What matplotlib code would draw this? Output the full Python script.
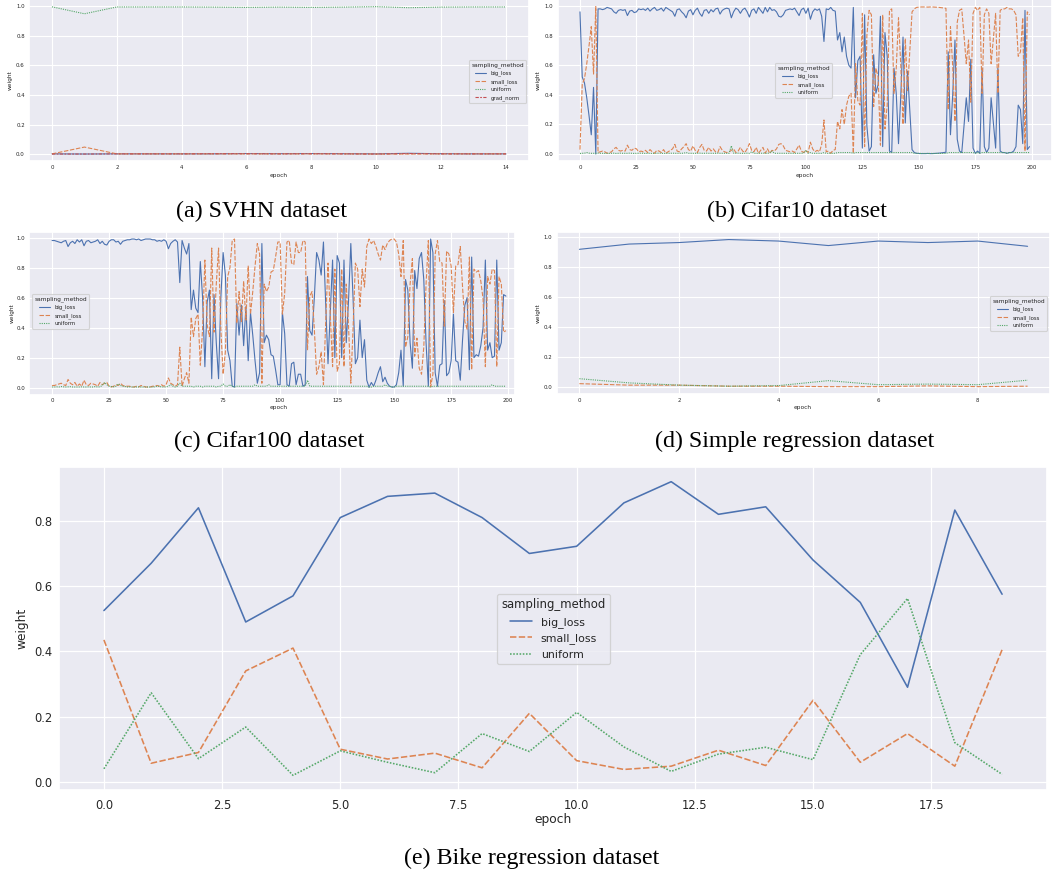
import matplotlib
matplotlib.use('Agg')
import matplotlib.pyplot as plt
import seaborn as sns

sns.set_theme(style='darkgrid')
plt.rcParams['font.family'] = ['DejaVu Sans']

# ---------------- data ----------------
methods = ['big_loss', 'small_loss', 'uniform', 'grad_norm']

svhn_epoch = list(range(15))
svhn_big = [0.002, 0.001, 0.002, 0.002, 0.002, 0.002, 0.004, 0.003, 0.004, 0.003, 0.002, 0.006, 0.003, 0.002, 0.002]
svhn_small = [0.002, 0.048, 0.002, 0.002, 0.002, 0.002, 0.002, 0.002, 0.002, 0.002, 0.001, 0.001, 0.002, 0.002, 0.002]
svhn_uniform = [0.995, 0.948, 0.994, 0.994, 0.994, 0.993, 0.991, 0.993, 0.991, 0.993, 0.996, 0.989, 0.993, 0.994, 0.994]
svhn_grad = [0.001, 0.001, 0.002, 0.002, 0.002, 0.003, 0.003, 0.002, 0.003, 0.002, 0.001, 0.004, 0.002, 0.002, 0.002]

c10_epoch = list(range(200))
c10_big = [
    0.96, 0.52, 0.48, 0.38, 0.26, 0.13, 0.45, 0.00, 0.98, 0.98,
    0.975, 0.98, 0.99, 0.985, 0.98, 0.96, 0.95, 0.97, 0.975, 0.97,
    0.975, 0.935, 0.965, 0.97, 0.955, 0.96, 0.98, 0.975, 0.98, 0.97,
    0.985, 0.965, 0.98, 0.99, 0.97, 0.975, 0.985, 0.965, 0.99, 0.98,
    0.97, 0.96, 0.93, 0.975, 0.98, 0.96, 0.945, 0.92, 0.965, 0.975,
    0.94, 0.97, 0.985, 0.95, 0.93, 0.97, 0.975, 0.95, 0.975, 0.96,
    0.98, 0.985, 0.945, 0.97, 0.98, 0.985, 0.98, 0.92, 0.96, 0.985,
    0.975, 0.95, 0.975, 0.985, 0.96, 0.925, 0.97, 0.98, 0.95, 0.99,
    0.97, 0.95, 0.99, 0.96, 0.99, 0.97, 0.975, 0.96, 0.93, 0.925,
    0.94, 0.97, 0.975, 0.98, 0.975, 0.985, 0.96, 0.935, 0.975, 0.985,
    0.95, 0.985, 0.91, 0.96, 0.98, 0.97, 0.98, 0.93, 0.76, 0.98,
    0.975, 0.99, 0.97, 0.965, 0.77, 0.82, 0.69, 0.79, 0.66, 0.60,
    0.58, 0.99, 0.38, 0.63, 0.66, 0.04, 0.94, 0.19, 0.02, 0.05,
    0.67, 0.41, 0.47, 0.93, 0.05, 0.82, 0.66, 0.02, 0.01, 0.58,
    0.41, 0.07, 0.39, 0.79, 0.21, 0.56, 0.30, 0.03, 0.01, 0.005,
    0.004, 0.003, 0.003, 0.003, 0.004, 0.003, 0.003, 0.004, 0.005, 0.006,
    0.008, 0.01, 0.012, 0.69, 0.13, 0.40, 0.77, 0.10, 0.02, 0.01,
    0.19, 0.38, 0.22, 0.64, 0.04, 0.005, 0.02, 0.005, 0.58, 0.05,
    0.01, 0.04, 0.38, 0.21, 0.04, 0.58, 0.02, 0.01, 0.01, 0.005,
    0.01, 0.01, 0.02, 0.05, 0.33, 0.30, 0.07, 0.97, 0.03, 0.05]
c10_small = [
    0.03, 0.47, 0.51, 0.61, 0.73, 0.86, 0.54, 0.995, 0.01, 0.015,
    0.02, 0.015, 0.005, 0.01, 0.015, 0.035, 0.045, 0.025, 0.02, 0.025,
    0.02, 0.06, 0.03, 0.025, 0.04, 0.035, 0.015, 0.02, 0.015, 0.025,
    0.01, 0.03, 0.015, 0.005, 0.025, 0.02, 0.01, 0.03, 0.005, 0.015,
    0.025, 0.035, 0.065, 0.02, 0.015, 0.035, 0.05, 0.07, 0.03, 0.02,
    0.055, 0.025, 0.01, 0.045, 0.065, 0.025, 0.02, 0.045, 0.02, 0.035,
    0.015, 0.01, 0.05, 0.025, 0.015, 0.01, 0.015, 0.025, 0.035, 0.01,
    0.02, 0.045, 0.02, 0.01, 0.035, 0.07, 0.025, 0.015, 0.045, 0.005,
    0.025, 0.045, 0.005, 0.035, 0.005, 0.025, 0.02, 0.035, 0.065, 0.07,
    0.055, 0.025, 0.02, 0.015, 0.02, 0.01, 0.035, 0.06, 0.02, 0.01,
    0.025, 0.01, 0.08, 0.035, 0.015, 0.025, 0.015, 0.065, 0.23, 0.015,
    0.02, 0.005, 0.025, 0.03, 0.22, 0.17, 0.30, 0.20, 0.33, 0.39,
    0.41, 0.005, 0.61, 0.36, 0.33, 0.95, 0.05, 0.80, 0.97, 0.94,
    0.32, 0.58, 0.52, 0.06, 0.94, 0.17, 0.33, 0.97, 0.98, 0.41,
    0.58, 0.92, 0.60, 0.20, 0.78, 0.43, 0.69, 0.96, 0.98, 0.99,
    0.992, 0.993, 0.993, 0.993, 0.992, 0.993, 0.993, 0.992, 0.991, 0.99,
    0.988, 0.986, 0.984, 0.30, 0.86, 0.59, 0.22, 0.89, 0.97, 0.98,
    0.80, 0.61, 0.77, 0.35, 0.95, 0.99, 0.97, 0.99, 0.41, 0.94,
    0.98, 0.95, 0.61, 0.78, 0.95, 0.41, 0.97, 0.98, 0.98, 0.99,
    0.98, 0.98, 0.97, 0.94, 0.66, 0.69, 0.92, 0.02, 0.96, 0.94]
c10_uniform = [
    0.004, 0.005, 0.006, 0.01, 0.006, 0.005, 0.005, 0.005, 0.006, 0.005,
    0.005, 0.004, 0.005, 0.004, 0.005, 0.006, 0.004, 0.005, 0.006, 0.005,
    0.005, 0.005, 0.006, 0.005, 0.004, 0.005, 0.005, 0.006, 0.005, 0.004,
    0.005, 0.005, 0.004, 0.005, 0.005, 0.006, 0.005, 0.004, 0.005, 0.005,
    0.005, 0.006, 0.005, 0.005, 0.005, 0.005, 0.006, 0.01, 0.005, 0.005,
    0.005, 0.005, 0.005, 0.006, 0.005, 0.005, 0.006, 0.005, 0.005, 0.005,
    0.005, 0.006, 0.005, 0.005, 0.005, 0.005, 0.005, 0.055, 0.006, 0.005,
    0.006, 0.005, 0.005, 0.005, 0.006, 0.005, 0.015, 0.005, 0.005, 0.005,
    0.005, 0.006, 0.005, 0.005, 0.006, 0.02, 0.005, 0.005, 0.005, 0.005,
    0.005, 0.005, 0.005, 0.005, 0.005, 0.005, 0.005, 0.005, 0.005, 0.006,
    0.025, 0.005, 0.01, 0.005, 0.005, 0.005, 0.005, 0.005, 0.01, 0.005,
    0.005, 0.005, 0.005, 0.005, 0.01, 0.01, 0.01, 0.01, 0.01, 0.01,
    0.01, 0.005, 0.01, 0.01, 0.01, 0.01, 0.01, 0.01, 0.01, 0.01,
    0.01, 0.01, 0.01, 0.01, 0.01, 0.01, 0.01, 0.01, 0.01, 0.01,
    0.01, 0.01, 0.01, 0.01, 0.01, 0.01, 0.01, 0.01, 0.005, 0.005,
    0.004, 0.004, 0.004, 0.004, 0.004, 0.004, 0.004, 0.004, 0.004, 0.004,
    0.004, 0.004, 0.004, 0.01, 0.01, 0.01, 0.01, 0.01, 0.01, 0.01,
    0.01, 0.01, 0.01, 0.01, 0.01, 0.005, 0.01, 0.005, 0.01, 0.01,
    0.01, 0.01, 0.01, 0.01, 0.01, 0.01, 0.01, 0.01, 0.01, 0.005,
    0.01, 0.01, 0.01, 0.01, 0.01, 0.01, 0.01, 0.01, 0.01, 0.01]

c100_epoch = list(range(200))
c100_big = [
    0.98, 0.98, 0.975, 0.97, 0.965, 0.975, 0.98, 0.94, 0.965, 0.975,
    0.96, 0.985, 0.97, 0.985, 0.945, 0.975, 0.98, 0.965, 0.97, 0.975,
    0.985, 0.96, 0.975, 0.955, 0.95, 0.975, 0.985, 0.985, 0.97, 0.975,
    0.955, 0.975, 0.98, 0.985, 0.985, 0.99, 0.99, 0.985, 0.99, 0.98,
    0.985, 0.99, 0.99, 0.99, 0.985, 0.985, 0.975, 0.98, 0.975, 0.985,
    0.975, 0.925, 0.96, 0.975, 0.985, 0.97, 0.70, 0.98, 0.93, 0.89,
    0.96, 0.52, 0.65, 0.53, 0.50, 0.84, 0.60, 0.14, 0.57, 0.65,
    0.06, 0.62, 0.30, 0.06, 0.60, 0.90, 0.75, 0.25, 0.18, 0.01,
    0.005, 0.56, 0.35, 0.55, 0.28, 0.54, 0.18, 0.50, 0.35, 0.18,
    0.03, 0.10, 0.96, 0.30, 0.35, 0.32, 0.22, 0.21, 0.12, 0.02,
    0.02, 0.50, 0.36, 0.02, 0.01, 0.16, 0.17, 0.02, 0.09, 0.09,
    0.01, 0.02, 0.74, 0.38, 0.35, 0.60, 0.90, 0.85, 0.75, 0.97,
    0.55, 0.16, 0.50, 0.85, 0.20, 0.88, 0.83, 0.20, 0.85, 0.30,
    0.58, 0.96, 0.59, 0.16, 0.20, 0.45, 0.20, 0.32, 0.05, 0.003,
    0.035, 0.01, 0.05, 0.10, 0.14, 0.04, 0.07, 0.03, 0.01, 0.005,
    0.005, 0.02, 0.10, 0.25, 0.01, 0.72, 0.65, 0.30, 0.13, 0.78,
    0.66, 0.86, 0.90, 0.72, 0.30, 0.01, 0.99, 0.90, 0.10, 0.01,
    0.15, 0.16, 0.58, 0.08, 0.10, 0.18, 0.49, 0.18, 0.17, 0.05,
    0.32, 0.55, 0.60, 0.12, 0.87, 0.20, 0.22, 0.21, 0.28, 0.40,
    0.85, 0.25, 0.30, 0.20, 0.21, 0.85, 0.25, 0.30, 0.62, 0.61]
c100_small = [
    0.015, 0.015, 0.02, 0.025, 0.03, 0.02, 0.015, 0.055, 0.03, 0.02,
    0.035, 0.01, 0.025, 0.01, 0.05, 0.02, 0.015, 0.03, 0.025, 0.02,
    0.01, 0.035, 0.02, 0.03, 0.035, 0.01, 0.005, 0.01, 0.02, 0.015,
    0.03, 0.015, 0.01, 0.01, 0.01, 0.005, 0.005, 0.01, 0.005, 0.015,
    0.01, 0.005, 0.005, 0.005, 0.01, 0.01, 0.015, 0.01, 0.02, 0.01,
    0.02, 0.065, 0.03, 0.02, 0.01, 0.02, 0.27, 0.01, 0.06, 0.10,
    0.03, 0.47, 0.34, 0.46, 0.49, 0.15, 0.39, 0.85, 0.42, 0.34,
    0.93, 0.37, 0.69, 0.93, 0.39, 0.09, 0.24, 0.74, 0.80, 0.98,
    0.99, 0.43, 0.64, 0.44, 0.71, 0.45, 0.81, 0.49, 0.64, 0.81,
    0.96, 0.89, 0.03, 0.69, 0.64, 0.67, 0.77, 0.78, 0.87, 0.97,
    0.97, 0.49, 0.63, 0.97, 0.98, 0.83, 0.82, 0.97, 0.90, 0.90,
    0.98, 0.97, 0.25, 0.61, 0.64, 0.39, 0.09, 0.14, 0.24, 0.02,
    0.44, 0.83, 0.49, 0.14, 0.79, 0.11, 0.16, 0.79, 0.14, 0.69,
    0.41, 0.03, 0.40, 0.83, 0.79, 0.54, 0.79, 0.67, 0.94, 0.99,
    0.96, 0.98, 0.94, 0.89, 0.85, 0.95, 0.92, 0.96, 0.98, 0.99,
    0.99, 0.97, 0.89, 0.74, 0.98, 0.27, 0.34, 0.69, 0.86, 0.21,
    0.33, 0.13, 0.09, 0.27, 0.69, 0.98, 0.005, 0.09, 0.89, 0.98,
    0.84, 0.83, 0.41, 0.91, 0.89, 0.81, 0.50, 0.81, 0.82, 0.94,
    0.67, 0.44, 0.39, 0.87, 0.12, 0.79, 0.77, 0.78, 0.71, 0.59,
    0.14, 0.74, 0.69, 0.79, 0.78, 0.14, 0.74, 0.69, 0.37, 0.38]
c100_uniform = [
    0.005, 0.005, 0.006, 0.005, 0.008, 0.006, 0.005, 0.006, 0.007, 0.005,
    0.005, 0.005, 0.005, 0.006, 0.005, 0.005, 0.006, 0.005, 0.005, 0.008,
    0.005, 0.006, 0.015, 0.035, 0.02, 0.01, 0.008, 0.006, 0.01, 0.025,
    0.015, 0.01, 0.008, 0.005, 0.006, 0.005, 0.005, 0.005, 0.006, 0.005,
    0.005, 0.005, 0.005, 0.005, 0.005, 0.006, 0.01, 0.01, 0.005, 0.006,
    0.005, 0.01, 0.02, 0.01, 0.005, 0.01, 0.03, 0.01, 0.01, 0.01,
    0.01, 0.01, 0.005, 0.01, 0.01, 0.01, 0.005, 0.01, 0.01, 0.01,
    0.01, 0.01, 0.005, 0.01, 0.01, 0.025, 0.01, 0.01, 0.02, 0.01,
    0.005, 0.01, 0.01, 0.01, 0.01, 0.01, 0.01, 0.01, 0.01, 0.02,
    0.01, 0.01, 0.01, 0.01, 0.01, 0.02, 0.01, 0.01, 0.01, 0.01,
    0.01, 0.01, 0.01, 0.01, 0.01, 0.01, 0.01, 0.01, 0.01, 0.01,
    0.01, 0.01, 0.05, 0.01, 0.01, 0.01, 0.01, 0.01, 0.01, 0.01,
    0.01, 0.01, 0.01, 0.01, 0.01, 0.01, 0.01, 0.01, 0.01, 0.01,
    0.01, 0.01, 0.01, 0.01, 0.01, 0.01, 0.01, 0.01, 0.01, 0.005,
    0.005, 0.01, 0.01, 0.01, 0.01, 0.01, 0.02, 0.01, 0.01, 0.005,
    0.005, 0.01, 0.01, 0.01, 0.01, 0.01, 0.01, 0.01, 0.01, 0.01,
    0.01, 0.01, 0.01, 0.01, 0.01, 0.01, 0.005, 0.01, 0.01, 0.01,
    0.01, 0.01, 0.01, 0.01, 0.01, 0.01, 0.01, 0.01, 0.01, 0.01,
    0.01, 0.01, 0.01, 0.01, 0.01, 0.01, 0.01, 0.01, 0.01, 0.01,
    0.01, 0.01, 0.01, 0.02, 0.01, 0.01, 0.01, 0.01, 0.01, 0.01]

simple_epoch = list(range(10))
simple_big = [0.92, 0.955, 0.965, 0.985, 0.975, 0.945, 0.975, 0.965, 0.975, 0.94]
simple_small = [0.025, 0.015, 0.015, 0.008, 0.008, 0.005, 0.005, 0.01, 0.005, 0.008]
simple_uniform = [0.058, 0.03, 0.015, 0.008, 0.012, 0.045, 0.018, 0.022, 0.018, 0.048]

bike_epoch = list(range(20))
bike_big = [0.525, 0.67, 0.84, 0.49, 0.57, 0.81, 0.875, 0.885, 0.81, 0.70,
            0.722, 0.855, 0.92, 0.82, 0.843, 0.68, 0.55, 0.29, 0.833, 0.575]
bike_small = [0.435, 0.057, 0.09, 0.34, 0.41, 0.10, 0.07, 0.088, 0.043, 0.21,
              0.065, 0.038, 0.048, 0.097, 0.05, 0.25, 0.06, 0.148, 0.048, 0.405]
bike_uniform = [0.04, 0.273, 0.071, 0.168, 0.02, 0.095, 0.06, 0.028, 0.148, 0.093,
                0.213, 0.107, 0.032, 0.085, 0.106, 0.068, 0.39, 0.562, 0.12, 0.023]

captions = ['(a) SVHN dataset', '(b) Cifar10 dataset', '(c) Cifar100 dataset',
            '(d) Simple regression dataset', '(e) Bike regression dataset']

# ---------------- styling ----------------
colors = ['#4C72B0', '#DD8452', '#55A868', '#C44E52']
dashes = [(None, None), (4, 1.5), (1, 1), (3, 1.25, 1.5, 1.25)]

W, H = 1055, 875
fig = plt.figure(figsize=(W / 100, H / 100), dpi=100)


def add_ax(l, t, r, b):
    return fig.add_axes([l / W, 1 - b / H, (r - l) / W, (b - t) / H])


def draw(ax, x, series, lw, gridlw, fs_tick, fs_lab, fs_leg, fs_title, leg_xy, xl, yl,
         xticks, yticks, xpad, ypad, xlim=None):
    for i, ys in enumerate(series):
        kw = {}
        if i > 0:
            kw['dashes'] = dashes[i]
        ax.plot(x, ys, color=colors[i], lw=lw, label=methods[i], **kw)
    ax.set_xticks(xticks)
    ax.set_yticks(yticks)
    if xlim is not None:
        ax.set_xlim(*xlim)
    ax.tick_params(axis='x', labelsize=fs_tick, pad=xpad, length=0)
    ax.tick_params(axis='y', labelsize=fs_tick, pad=ypad, length=0)
    ax.grid(True, color='white', lw=gridlw)
    ax.set_xlabel('epoch', fontsize=fs_lab)
    ax.set_ylabel('weight', fontsize=fs_lab)
    ax.xaxis.set_label_coords(xl[0] / W, 1 - xl[1] / H, transform=fig.transFigure)
    ax.xaxis.label.set_va('center')
    ax.yaxis.set_label_coords(yl[0] / W, 1 - yl[1] / H, transform=fig.transFigure)
    ax.yaxis.label.set_va('center')
    leg = ax.legend(title='sampling_method', loc='upper left',
                    bbox_to_anchor=(leg_xy[0] / W, 1 - leg_xy[1] / H),
                    bbox_transform=fig.transFigure, borderaxespad=0,
                    fontsize=fs_leg, title_fontsize=fs_title,
                    frameon=True, fancybox=True)
    leg.get_frame().set_linewidth(gridlw)
    return ax


small = dict(lw=0.8, gridlw=0.8, fs_tick=3.9, fs_lab=4.2, fs_leg=3.9, fs_title=4.2,
             xpad=2.6, ypad=3.2)

ax_a = add_ax(29.3, -0.7, 528.7, 161.4)
draw(ax_a, svhn_epoch, [svhn_big, svhn_small, svhn_uniform, svhn_grad],
     leg_xy=(469, 60), xl=(279, 176), yl=(10, 80),
     xticks=range(0, 15, 2), yticks=[0, 0.2, 0.4, 0.6, 0.8, 1.0], **small)

ax_b = add_ax(557.5, -0.7, 1052, 161.4)
draw(ax_b, c10_epoch, [c10_big, c10_small, c10_uniform],
     leg_xy=(775, 63), xl=(805, 176), yl=(538, 80),
     xticks=range(0, 201, 25), yticks=[0, 0.2, 0.4, 0.6, 0.8, 1.0], **small)

ax_c = add_ax(29.4, 231.6, 515, 394.7)
draw(ax_c, c100_epoch, [c100_big, c100_small, c100_uniform],
     leg_xy=(32, 294), xl=(279, 408), yl=(12, 313),
     xticks=range(0, 201, 25), yticks=[0, 0.2, 0.4, 0.6, 0.8, 1.0],
     xlim=(-9.95, 203.0), **small)

ax_d = add_ax(557, 232.2, 1050, 394)
draw(ax_d, simple_epoch, [simple_big, simple_small, simple_uniform],
     leg_xy=(990, 296), xl=(803, 408), yl=(538, 313),
     xticks=range(0, 9, 2), yticks=[0, 0.2, 0.4, 0.6, 0.8, 1.0], **small)

ax_e = add_ax(59, 467, 1047, 790)
draw(ax_e, bike_epoch, [bike_big, bike_small, bike_uniform],
     lw=1.15, gridlw=0.9, fs_tick=8.3, fs_lab=8.8, fs_leg=7.9, fs_title=8.4,
     leg_xy=(497, 594), xl=(553, 819), yl=(22, 628),
     xticks=[0, 2.5, 5, 7.5, 10, 12.5, 15, 17.5], yticks=[0, 0.2, 0.4, 0.6, 0.8],
     xpad=6.5, ypad=4.7)

cap_pos = [(262, 211), (797, 211), (269, 441), (795, 441), (532, 858)]
for txt, (cx, cy) in zip(captions, cap_pos):
    fig.text(cx / W, 1 - cy / H, txt, ha='center', va='center',
             fontsize=17.3, family=['Liberation Serif', 'DejaVu Serif'], color='black')

fig.savefig('out.png', dpi=100)
